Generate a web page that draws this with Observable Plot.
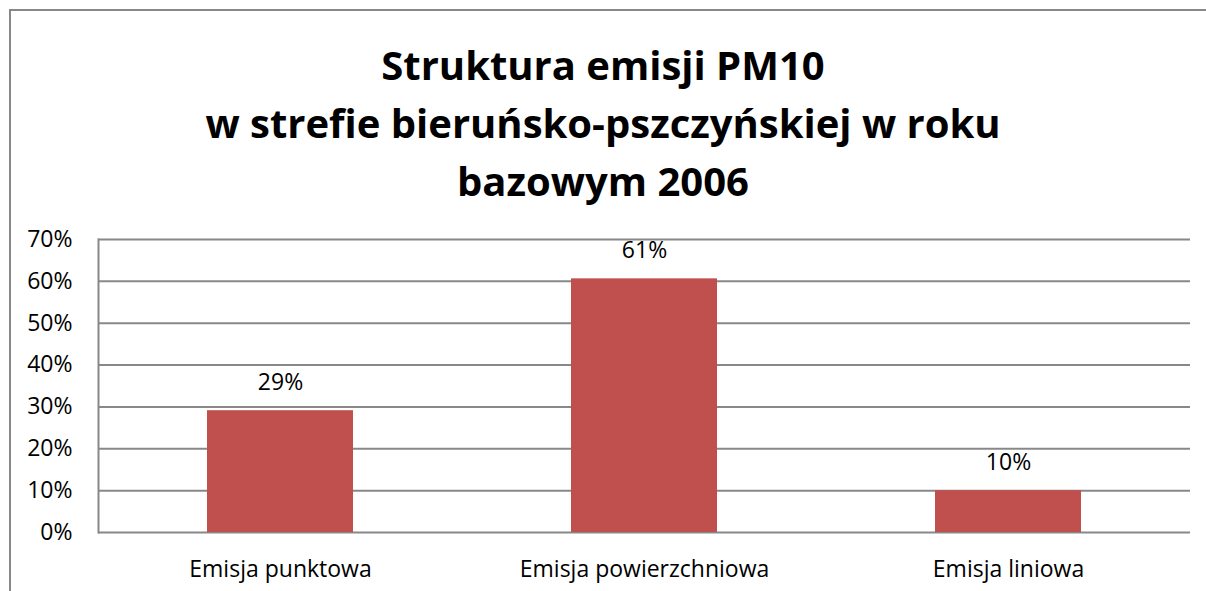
<!DOCTYPE html>
<html>
<head>
<meta charset="utf-8">
<script src="https://cdn.jsdelivr.net/npm/d3@7"></script>
<script src="https://cdn.jsdelivr.net/npm/@observablehq/plot@0.6"></script>
<style>
  html, body { margin: 0; padding: 0; background: #fff; }
  #wrap { position: relative; width: 1206px; height: 591px; overflow: hidden; font-family: "Open Sans", sans-serif; }
  #frame { position: absolute; left: 9px; top: 9px; width: 1300px; height: 700px; border-top: 2px solid #888; border-left: 2px solid #888; box-sizing: border-box; }
  #title { position: absolute; left: 0; top: 36px; width: 1206px; text-align: center; font-weight: bold; font-size: 40px; line-height: 58px; color: #000; }
  #chart { position: absolute; left: 0; top: 200px; }
</style>
</head>
<body>
<div id="wrap">
  <div id="frame"></div>
  <div id="title">Struktura emisji PM10<br>w strefie bieruńsko-pszczyńskiej w roku<br>bazowym 2006</div>
  <div id="chart"></div>
</div>
<script>
const categories = ["Emisja punktowa", "Emisja powierzchniowa", "Emisja liniowa"];
const values = [0.291, 0.606, 0.10];
const labels = ["29%", "61%", "10%"];
const yTicks = [0, 0.1, 0.2, 0.3, 0.4, 0.5, 0.6, 0.7];

const data = categories.map((c, i) => ({category: c, value: values[i], label: labels[i]}));

const chart = Plot.plot({
  width: 1206,
  height: 391,
  marginTop: 39,
  marginBottom: 59,
  marginLeft: 98,
  marginRight: 16,
  style: {fontFamily: "Open Sans, sans-serif", fontSize: "23px", color: "#000", background: "transparent"},
  x: {domain: categories, paddingInner: 0.6, paddingOuter: 0.3, label: null, tickSize: 0, tickPadding: 28},
  y: {domain: [0, 0.7], ticks: yTicks, tickFormat: d => Math.round(d * 100) + "%", label: null, tickSize: 0, tickPadding: 26},
  marks: [
    Plot.gridY(yTicks, {stroke: "#888", strokeOpacity: 1, strokeWidth: 2}),
    Plot.frame({anchor: "left", stroke: "#888", strokeWidth: 2}),
    Plot.barY(data, {x: "category", y: "value", fill: "#C0504D"}),
    Plot.text(data, {x: "category", y: "value", text: "label", dy: -28, fontSize: 23, fill: "#000"})
  ]
});
document.getElementById("chart").appendChild(chart);
</script>
</body>
</html>
